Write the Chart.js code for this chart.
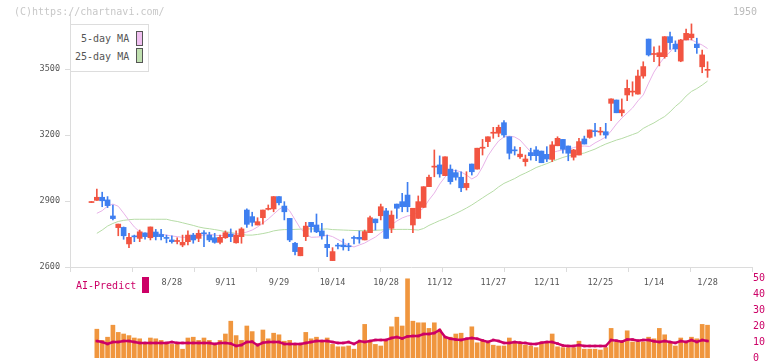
<!DOCTYPE html>
<html><head><meta charset="utf-8">
<script src="https://cdn.jsdelivr.net/npm/chart.js@4.4.1/dist/chart.umd.min.js"></script>
<style>
html,body{margin:0;padding:0;background:#fff;width:772px;height:361px;overflow:hidden;position:relative;font-family:'DejaVu Sans Mono',monospace;}
canvas{position:absolute;left:0;}
#c1{top:0;}
#c2{top:270px;}
.t{position:absolute;white-space:nowrap;font-size:10px;line-height:12px;z-index:3;}
#legend{position:absolute;left:70px;top:24px;width:79px;height:48px;box-sizing:border-box;border:1px solid #ddd;background:#fff;z-index:2;}
.sw{position:absolute;width:7px;height:15px;box-sizing:border-box;border:1px solid #555;z-index:3;}
</style></head><body>
<canvas id="c1" width="772" height="300"></canvas>
<canvas id="c2" width="772" height="100"></canvas>
<div class="t" style="left:14px;top:6px;color:#c8c8c8;">(C)https://chartnavi.com/</div>
<div class="t" style="left:733px;top:6px;color:#bbb;">1950</div>
<div id="legend"></div>
<div class="t" style="left:81px;top:33px;color:#555;">5-day MA</div>
<div class="sw" style="left:136px;top:31px;background:#f0c0f0;"></div>
<div class="t" style="left:75px;top:51px;color:#555;">25-day MA</div>
<div class="sw" style="left:136px;top:48px;background:#c0e0b0;"></div>
<div class="t" style="left:76px;top:280px;color:#cc0066;">AI-Predict</div>
<div style="position:absolute;left:142px;top:277px;width:7px;height:16px;background:#cc0066;z-index:3;"></div>
<script>
// ---- data ----
const labelIdx = [15,25,35,45,55,65,75,85,95,105,115];
const dateLabels = ['8/28','9/11','9/29','10/14','10/28','11/12','11/27','12/11','12/25','1/14','1/28'];
const priceTicks = [2600,2900,3200,3500];
const volTicks = [0,10,20,30,40,50];

const opens = [
2893,2903,2917,2905,2832,2779,2780,2705,2739,2730,
2755,2733,2759,2748,2732,2723,2716,2700,2715,2745,
2730,2755,2745,2733,2712,2733,2750,2710,2738,2859,
2829,2791,2824,2862,2864,2920,2877,2821,2708,2651,
2738,2803,2791,2764,2703,2629,2697,2700,2694,2732,
2735,2723,2756,2818,2833,2855,2776,2886,2897,2927,
2791,2821,2871,2965,3054,3064,3015,3045,3029,3008,
2961,3068,3045,3140,3170,3208,3208,3256,3192,3130,
3101,3079,3120,3132,3127,3112,3089,3151,3180,3150,
3099,3109,3182,3189,3217,3213,3215,3344,3359,3301,
3382,3395,3386,3468,3636,3566,3556,3556,3647,3613,
3536,3632,3642,3613,3510,3494];
const closes = [
2895,2917,2901,2879,2820,2795,2742,2735,2737,2760,
2738,2782,2738,2738,2730,2715,2720,2712,2745,2723,
2753,2751,2723,2712,2735,2756,2738,2745,2773,2794,
2803,2806,2859,2865,2920,2892,2851,2723,2670,2689,
2786,2783,2760,2742,2688,2670,2695,2692,2692,2730,
2727,2761,2824,2801,2874,2730,2836,2867,2874,2874,
2867,2897,2965,3008,3056,3023,3101,2988,3008,2960,
2980,3033,3140,3143,3192,3211,3235,3200,3117,3128,
3113,3091,3106,3106,3074,3091,3155,3185,3135,3117,
3132,3170,3159,3223,3215,3217,3200,3364,3301,3314,
3412,3398,3468,3511,3564,3570,3574,3647,3620,3591,
3632,3662,3659,3597,3564,3497];
const highs = [
2895,2954,2940,2920,2882,2795,2782,2753,2745,2768,
2755,2782,2771,2771,2745,2742,2733,2745,2764,2753,
2768,2765,2758,2753,2745,2764,2773,2764,2779,2864,
2849,2824,2859,2882,2920,2920,2897,2821,2712,2689,
2803,2803,2841,2799,2745,2688,2708,2727,2708,2741,
2764,2768,2832,2818,2886,2867,2855,2886,2935,2985,
2867,2923,2965,3018,3132,3105,3101,3064,3041,3033,
3033,3068,3140,3180,3192,3235,3245,3265,3192,3147,
3144,3109,3140,3147,3127,3147,3170,3192,3180,3150,
3135,3185,3195,3223,3253,3235,3253,3364,3359,3364,
3450,3442,3495,3533,3636,3601,3605,3647,3668,3628,
3635,3682,3705,3640,3586,3533];
const lows = [
2893,2903,2874,2870,2814,2742,2726,2688,2715,2715,
2727,2723,2723,2723,2710,2708,2705,2692,2700,2708,
2715,2692,2715,2708,2705,2730,2715,2708,2708,2780,
2786,2791,2795,2859,2851,2882,2814,2715,2655,2651,
2720,2758,2756,2726,2647,2629,2682,2677,2674,2705,
2708,2723,2756,2768,2814,2730,2756,2821,2851,2851,
2756,2821,2870,2965,3010,3008,3015,2977,2995,2942,
2950,3018,3045,3109,3147,3185,3192,3190,3091,3109,
3094,3059,3086,3083,3074,3079,3079,3151,3117,3083,
3086,3109,3159,3185,3195,3200,3185,3265,3301,3286,
3356,3377,3386,3458,3559,3533,3514,3549,3589,3579,
3533,3632,3632,3571,3483,3462];
const ma5 = [
null,2844,2856,2877,2886,2876,2845,2812,2782,2760,
2750,2753,2753,2749,2745,2741,2738,2735,2735,2738,
2742,2745,2749,2745,2742,2745,2749,2750,2753,2759,
2768,2782,2800,2818,2840,2862,2877,2855,2815,2775,
2750,2735,2736,2738,2745,2738,2725,2712,2698,2691,
2700,2709,2723,2736,2755,2773,2791,2809,2823,2832,
2836,2850,2868,2905,2936,2977,3009,3036,3039,3032,
3018,3000,3014,3055,3105,3141,3173,3191,3195,3191,
3177,3150,3123,3109,3102,3105,3120,3127,3132,3134,
3143,3148,3150,3148,3164,3177,3191,3218,3250,3277,
3300,3323,3355,3382,3436,3486,3523,3555,3577,3609,
3630,3633,3633,3620,3609,3593];
const ma25 = [
null,2753,2768,2786,2798,2807,2812,2815,2817,2817,
2817,2817,2817,2817,2817,2811,2807,2801,2795,2789,
2782,2777,2774,2770,2766,2760,2757,2752,2748,2745,
2745,2748,2752,2757,2764,2768,2770,2770,2771,2772,
2773,2773,2773,2772,2773,2770,2769,2768,2767,2766,
2765,2765,2766,2767,2768,2770,2770,2771,2771,2771,
2770,2768,2775,2789,2800,2811,2820,2832,2843,2855,
2868,2882,2898,2914,2930,2945,2964,2980,2991,3002,
3016,3027,3039,3052,3061,3070,3080,3089,3098,3105,
3109,3114,3118,3127,3136,3148,3159,3168,3177,3184,
3193,3202,3211,3230,3243,3255,3270,3284,3305,3330,
3350,3377,3398,3411,3427,3445];
const volume = [
null,18,11,13,20.5,16,15,14,12.5,12,
9.5,12.5,12,11,9.5,8.5,8.5,5.5,12.5,13,
11,12.5,11,8.5,11,15,23,14,11,20,
16.5,9,17.5,12,15.5,14.5,10.5,11,8.5,8.5,
16,12,13,10.5,12.5,8.5,7,7,7.5,5.5,
10.5,21,11,8.5,7.5,10.5,19.5,25.5,20,49.5,
23,22,22,18.5,22,17.5,13.5,13,15,15.5,
12,19.5,9.5,10.5,10,8,7.5,7.5,12.5,10,
10,8,7.5,6.5,10,10,15,7,6.5,6.5,
6.5,10.5,5.5,5.5,5.5,5,6.5,18.5,10,10,
17,10,10,10,13,12,18.5,14.5,10,7.5,
12.5,10,13,12,21,20.5];
const aiPredict = [
null,10.6,10,8.75,10,10,10.6,10.6,10,9.4,
9.4,9.4,9.4,9.4,9.4,10,9.4,9.4,9.4,9.4,
9.4,9.4,9.4,8.75,9.4,9.4,9,7.5,8.1,10,
10.2,8,9.5,10,10,10,8.75,8.75,8.75,8.75,
9.4,10,10.6,10.6,10.6,10,9.4,9.4,10,8.75,
10.6,10,10.6,11.25,11.25,11.25,12.5,13.1,12.2,13.5,
13.75,13.75,15,15,15.6,17.5,13.1,12,11.5,11.25,
12,12.5,12,11,10,11.25,10.6,9.4,9.4,10,
9.6,9.4,8.75,8.75,9.5,10,10,9,7.8,7.5,
7.5,8.1,7.5,7.5,7.5,7.5,7.5,11.25,10.8,10.2,
11.5,11.5,10.8,11.25,11.25,10.5,10,10.6,10,9.4,
10.6,10,11.25,10,11.25,10.6];

// ---- chart ----
const FONT = 'DejaVu Sans Mono';
const XMIN = -4.01, XMAX = 123.3;
const idx = opens.map((_, i) => i);
const UP = '#f25441', DOWN = '#3f7ff0';
const candleCol = idx.map(i => closes[i] >= opens[i] ? UP : DOWN);
const divTicks = Array.from({length: 12}, (_, k) => XMIN + k * (XMAX - XMIN) / 11);
const isLabelTick = v => labelIdx.some(l => Math.abs(l - v) < 1e-6);

new Chart(document.getElementById('c1'), {
  type: 'bar',
  data: {datasets: [
    {type: 'bar', data: idx.map(i => ({x: i, y: [opens[i], closes[i]]})), backgroundColor: candleCol,
     barThickness: 5, minBarLength: 1, stack: 'candle', order: 0},
    {type: 'bar', data: idx.map(i => ({x: i, y: [lows[i], highs[i]]})), backgroundColor: candleCol,
     barThickness: 1, minBarLength: 1, stack: 'candle', order: 1},
    {type: 'line', data: idx.map(i => ({x: i, y: ma5[i]})), borderColor: '#e8b2e8', borderWidth: 1,
     pointRadius: 0, order: 2},
    {type: 'line', data: idx.map(i => ({x: i, y: ma25[i]})), borderColor: '#b6dca6', borderWidth: 1,
     pointRadius: 0, order: 3}
  ]},
  options: {
    responsive: false, animation: false,
    layout: {padding: {left: 0, right: 20, top: 14, bottom: 0}},
    plugins: {legend: {display: false}, tooltip: {enabled: false}},
    scales: {
      x: {type: 'linear', min: XMIN, max: XMAX, offset: false,
        afterBuildTicks: s => { s.ticks = divTicks.concat(labelIdx).sort((a, b) => a - b).map(v => ({value: v})); },
        afterFit: s => { s.height = 33; },
        ticks: {autoSkip: false, maxRotation: 0, minRotation: 0, padding: 6, color: '#555',
          font: {family: FONT, size: 8.5},
          callback: v => { const k = labelIdx.findIndex(l => Math.abs(l - v) < 1e-6); return k >= 0 ? dateLabels[k] : ''; }},
        grid: {drawOnChartArea: false, offset: false, tickLength: 5,
          color: c => (c.tick && isLabelTick(c.tick.value)) ? 'rgba(0,0,0,0)' : '#dcdcdc'},
        border: {color: '#dcdcdc', width: 1}
      },
      y: {type: 'linear', min: 2600, max: 3750, position: 'left', stacked: false,
        afterBuildTicks: s => { s.ticks = priceTicks.map(v => ({value: v})); },
        afterFit: s => { s.width = 70; },
        ticks: {padding: 5, color: '#555', font: {family: FONT, size: 8.5}, callback: v => String(v)},
        grid: {drawOnChartArea: false, tickLength: 5, color: '#dcdcdc'},
        border: {color: '#dcdcdc', width: 1}
      }
    }
  }
});

new Chart(document.getElementById('c2'), {
  type: 'bar',
  data: {datasets: [
    {type: 'line', data: idx.map(i => ({x: i, y: aiPredict[i]})), borderColor: '#cc0066', borderWidth: 2.5,
     pointRadius: 1.8, pointStyle: 'rect', pointBackgroundColor: '#cc0066', pointBorderWidth: 0, order: 0},
    {type: 'bar', data: idx.map(i => ({x: i, y: volume[i]})), backgroundColor: '#f0963e',
     barThickness: 4, order: 1}
  ]},
  options: {
    responsive: false, animation: false,
    layout: {padding: {left: 70, right: 0, top: 8, bottom: 12}},
    plugins: {legend: {display: false}, tooltip: {enabled: false}},
    scales: {
      x: {type: 'linear', min: XMIN, max: XMAX, offset: false, display: false},
      y: {position: 'right', min: 0, max: 50,
        afterBuildTicks: s => { s.ticks = volTicks.map(v => ({value: v})); },
        afterFit: s => { s.width = 20; },
        grid: {display: false, drawTicks: false, tickLength: 0}, border: {display: false},
        ticks: {padding: 1, color: '#cc0066', font: {family: FONT, size: 10}}
      }
    }
  }
});
</script>
</body></html>
